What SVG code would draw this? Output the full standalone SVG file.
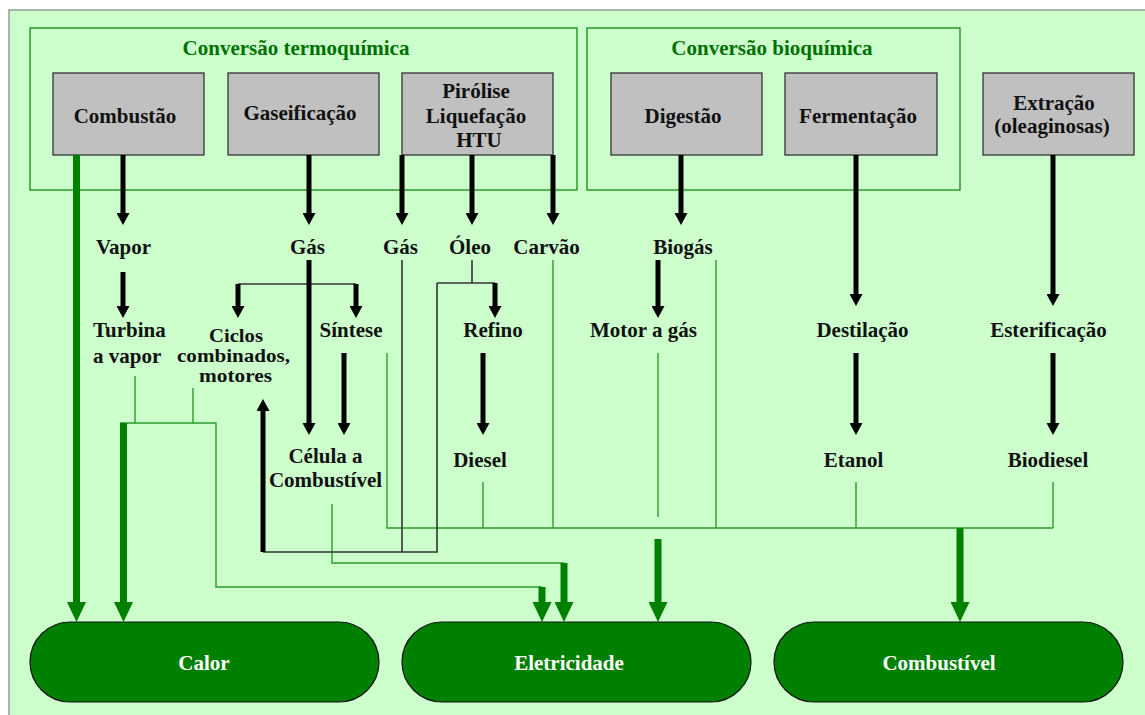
<svg xmlns="http://www.w3.org/2000/svg" width="1145" height="715" viewBox="0 0 1145 715">
<style>
.t{font-family:"Liberation Serif","Times New Roman",serif;font-weight:bold;font-size:21px;fill:#111;text-anchor:middle}
.tl{text-anchor:start}
.sm{font-size:18px}
.g{fill:#007000}
.w{fill:#ffffff}
.box{fill:#c0c0c0;stroke:#333;stroke-width:1.3}
.grp{fill:none;stroke:#108a10;stroke-width:1.3}
.pill{fill:#008000;stroke:#111;stroke-width:1.2}
.ba{stroke:#000;stroke-width:5;fill:none;marker-end:url(#bh)}
.ga{stroke:#008000;stroke-width:7;fill:none;marker-end:url(#gh)}
.dk{stroke:#333;stroke-width:1.6;fill:none}
.gl{stroke:#2e9b2e;stroke-width:1.4;fill:none}
</style>
<defs>
<marker id="bh" markerUnits="userSpaceOnUse" viewBox="0 0 12 13" refX="0" refY="6.5" markerWidth="12" markerHeight="13" orient="auto"><path d="M0,0 L12,6.5 L0,13 z" fill="#000"/></marker>
<marker id="gh" markerUnits="userSpaceOnUse" viewBox="0 0 20 19" refX="0" refY="9.5" markerWidth="20" markerHeight="19" orient="auto"><path d="M0,0 L20,9.5 L0,19 z" fill="#008000"/></marker>
</defs>
<rect x="0" y="0" width="1145" height="715" fill="#ffffff"/>
<rect x="9" y="10" width="1140" height="710" fill="#ccffcc" stroke="#808080" stroke-width="1.2"/>

<g id="grp-termo"><rect class="grp" x="30" y="28" width="547" height="162"/><text class="t g" x="296" y="55">Conversão termoquímica</text></g>
<g id="grp-bio"><rect class="grp" x="587" y="28" width="373" height="162"/><text class="t g" x="772" y="55">Conversão bioquímica</text></g>

<g id="combustao"><rect class="box" x="53" y="73" width="151" height="82"/><text class="t" x="125" y="123">Combustão</text></g>
<g id="gaseificacao"><rect class="box" x="228" y="73" width="151" height="82"/><text class="t" x="300" y="120">Gaseificação</text></g>
<g id="pirolise"><rect class="box" x="402" y="73" width="151" height="82"/><text class="t" x="476" y="98">Pirólise</text><text class="t" x="476" y="123">Liquefação</text><text class="t" x="479" y="147">HTU</text></g>
<g id="digestao"><rect class="box" x="611" y="73" width="151" height="82"/><text class="t" x="683" y="123">Digestão</text></g>
<g id="fermentacao"><rect class="box" x="785" y="73" width="152" height="82"/><text class="t" x="858" y="123">Fermentação</text></g>
<g id="extracao"><rect class="box" x="983" y="73" width="151" height="82"/><text class="t" x="1054" y="110">Extração</text><text class="t" x="1052" y="133">(oleaginosas)</text></g>

<g id="connectors">
<path class="gl" d="M135,376 V423 M193,388 V423 M120,423 H216 V587 H542"/>
<path class="gl" d="M332,504 V563 H564"/>
<path class="gl" d="M387,353 V528 H1053 M483,482 V528 M553,260 V528 M716,260 V528 M856,482 V528 M1053,482 V528"/>
<path class="gl" d="M658,353 V517"/>
<path class="dk" d="M238,284 H356"/>
<path class="dk" d="M472,260 V283 M437,283 H495"/>
<path class="dk" d="M437,283 V552 H263"/>
<path class="dk" d="M402,260 V552"/>

<path class="ba" d="M123,155 V213"/>
<path class="ba" d="M309,155 V213"/>
<path class="ba" d="M402,155 V213"/>
<path class="ba" d="M472,155 V213"/>
<path class="ba" d="M553,155 V213"/>
<path class="ba" d="M681,155 V213"/>
<path class="ba" d="M856,155 V294"/>
<path class="ba" d="M1053,155 V294"/>
<path class="ba" d="M123,272 V306"/>
<path class="ba" d="M309,260 V423"/>
<path class="ba" d="M238,284 V306"/>
<path class="ba" d="M356,284 V306"/>
<path class="ba" d="M344,353 V423"/>
<path class="ba" d="M263,552 V411"/>
<path class="ba" d="M495,283 V306"/>
<path class="ba" d="M483,353 V423"/>
<path class="ba" d="M658,260 V306"/>
<path class="ba" d="M856,353 V423"/>
<path class="ba" d="M1053,353 V423"/>

<path class="ga" d="M76.5,155 V602"/>
<path class="ga" d="M123.5,423 V602"/>
<path class="ga" d="M542,587 V602"/>
<path class="ga" d="M564,563 V602"/>
<path class="ga" d="M658,539 V602"/>
<path class="ga" d="M960,528 V602"/>
</g>

<g id="vapor"><text class="t" x="123.5" y="254">Vapor</text></g>
<g id="gas1"><text class="t" x="307.5" y="254">Gás</text></g>
<g id="gas2"><text class="t" x="400.5" y="254">Gás</text></g>
<g id="oleo"><text class="t" x="470" y="254">Óleo</text></g>
<g id="carvao"><text class="t" x="546.5" y="254">Carvão</text></g>
<g id="biogas"><text class="t" x="683" y="254">Biogás</text></g>
<g id="turbina"><text class="t tl" x="93" y="337">Turbina</text><text class="t tl" x="93" y="363">a vapor</text></g>
<g id="ciclos"><text class="t sm" x="236" y="342" textLength="54" lengthAdjust="spacingAndGlyphs">Ciclos</text><text class="t sm" x="233.5" y="362" textLength="113" lengthAdjust="spacingAndGlyphs">combinados,</text><text class="t sm" x="235.5" y="382" textLength="73" lengthAdjust="spacingAndGlyphs">motores</text></g>
<g id="sintese"><text class="t" x="351" y="337">Síntese</text></g>
<g id="refino"><text class="t" x="493" y="337">Refino</text></g>
<g id="motor"><text class="t" x="643.5" y="337">Motor a gás</text></g>
<g id="destilacao"><text class="t" x="862.5" y="337">Destilação</text></g>
<g id="esterificacao"><text class="t" x="1048.5" y="337">Esterificação</text></g>
<g id="celula"><text class="t" x="325.5" y="463">Célula a</text><text class="t" x="325.5" y="487">Combustível</text></g>
<g id="diesel"><text class="t" x="480" y="467">Diesel</text></g>
<g id="etanol"><text class="t" x="853.5" y="467">Etanol</text></g>
<g id="biodiesel"><text class="t" x="1048" y="467">Biodiesel</text></g>

<g id="calor"><rect class="pill" x="30" y="622" width="349" height="80" rx="40"/><text class="t w" x="204" y="670">Calor</text></g>
<g id="eletricidade"><rect class="pill" x="402" y="622" width="349" height="80" rx="40"/><text class="t w" x="569" y="670">Eletricidade</text></g>
<g id="combustivel"><rect class="pill" x="774" y="622" width="349" height="80" rx="40"/><text class="t w" x="939" y="670">Combustível</text></g>
</svg>
